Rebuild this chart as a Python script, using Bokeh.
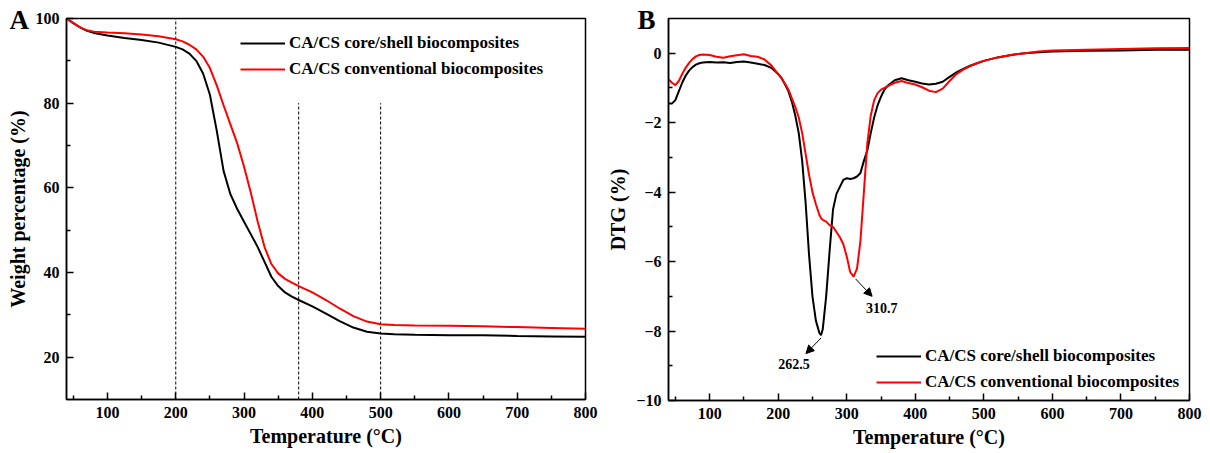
from bokeh.plotting import figure
from bokeh.layouts import row
from bokeh.models import (FixedTicker, Legend, LegendItem, Label, Arrow, NormalHead,
                          Range1d, Title)
from bokeh.embed import file_html
from bokeh.resources import INLINE

# ---------------- data ----------------
series_names = ["CA/CS core/shell biocomposites", "CA/CS conventional biocomposites"]
series_colors = ["#000000", "#ff0000"]
panel_letters = ["A", "B"]

# Panel A: TGA (weight percentage)
tga_temp = [40, 50, 60, 70, 80, 100, 125, 150, 175, 200, 210, 220, 230, 240, 250, 260, 270,
            280, 290, 300, 310, 320, 330, 340, 350, 360, 370, 380, 400, 420, 440, 460, 480,
            500, 520, 550, 600, 650, 700, 750, 800]
tga_core = [100, 98.9, 97.9, 97.1, 96.6, 96.0, 95.4, 94.9, 94.3, 93.3, 92.7, 91.7, 90.0, 87.0,
            82.0, 73.5, 64.0, 58.5, 55.0, 52.0, 49.0, 46.0, 42.5, 39.0, 36.8, 35.3, 34.3, 33.5,
            32.0, 30.3, 28.5, 27.0, 26.0, 25.6, 25.4, 25.3, 25.2, 25.2, 25.0, 24.9, 24.8]
tga_conv = [100, 98.9, 97.9, 97.2, 96.9, 96.7, 96.5, 96.2, 95.8, 95.1, 94.6, 93.8, 92.7, 91.0,
            88.3, 84.2, 79.5, 75.0, 70.5, 65.0, 58.8, 52.0, 46.0, 42.0, 39.8, 38.5, 37.6, 36.8,
            35.3, 33.5, 31.5, 29.7, 28.4, 27.8, 27.6, 27.5, 27.4, 27.3, 27.1, 26.9, 26.7]
marker_temps = [200, 380, 500]
marker_tops = [100, 80, 80]

# Panel B: DTG
dtg_temp = [40, 45, 50, 55, 60, 65, 70, 75, 80, 85, 90, 100, 110, 120, 130, 140, 150, 160, 170,
            180, 190, 200, 205, 210, 215, 220, 225, 230, 235, 240, 245, 250, 255, 260, 262.5,
            265, 270, 275, 280, 285, 290, 295, 300, 305, 310, 315, 320, 325, 330, 335, 340,
            345, 350, 355, 360, 370, 380, 390, 400, 410, 420, 430, 440, 450, 460, 470, 480,
            490, 500, 520, 540, 560, 580, 600, 650, 700, 750, 800]
dtg_core = [-1.45, -1.45, -1.35, -1.1, -0.85, -0.65, -0.5, -0.4, -0.33, -0.29, -0.27, -0.25,
            -0.27, -0.26, -0.28, -0.25, -0.24, -0.27, -0.3, -0.34, -0.42, -0.6, -0.72, -0.9,
            -1.1, -1.4, -1.8, -2.3, -3.1, -4.3, -5.8, -7.0, -7.7, -8.05, -8.12, -7.95, -7.0,
            -5.7, -4.5, -4.05, -3.85, -3.65, -3.6, -3.62, -3.6, -3.55, -3.45, -3.1, -2.8, -2.3,
            -1.85, -1.5, -1.25, -1.05, -0.93, -0.78, -0.72, -0.78, -0.82, -0.87, -0.9, -0.88,
            -0.82, -0.68, -0.55, -0.45, -0.36, -0.29, -0.22, -0.12, -0.05, 0.0, 0.03, 0.05,
            0.07, 0.08, 0.1, 0.1]
dtg_conv = [-0.75, -0.85, -0.92, -0.8, -0.6, -0.42, -0.28, -0.17, -0.09, -0.05, -0.04, -0.05,
            -0.1, -0.13, -0.09, -0.06, -0.03, -0.08, -0.1, -0.18, -0.35, -0.6, -0.72, -0.88,
            -1.05, -1.3, -1.55, -1.85, -2.3, -2.9, -3.5, -4.0, -4.35, -4.65, -4.75, -4.8, -4.85,
            -4.95, -5.0, -5.15, -5.3, -5.5, -5.85, -6.3, -6.43, -6.2, -5.4, -4.0, -2.6, -1.8,
            -1.35, -1.15, -1.05, -1.0, -0.95, -0.85, -0.8, -0.86, -0.9, -0.98, -1.08, -1.12,
            -1.02, -0.8, -0.6, -0.47, -0.37, -0.29, -0.22, -0.12, -0.05, 0.0, 0.05, 0.08, 0.1,
            0.12, 0.14, 0.15]
peak_labels = ["262.5", "310.7"]
peak_arrow_start = [(262.5, -8.2), (313.0, -6.5)]
peak_arrow_end = [(240.5, -8.65), (337.0, -7.0)]
peak_label_pos = [(223.0, -8.95), (351.0, -7.35)]

x_ticks = [100, 200, 300, 400, 500, 600, 700, 800]
x_minor = [50, 150, 250, 350, 450, 550, 650, 750]
a_y_ticks = [20, 40, 60, 80, 100]
a_y_minor = [30, 50, 70, 90]
b_y_ticks = [0, -2, -4, -6, -8, -10]
b_y_minor = [-1, -3, -5, -7, -9]

FONT = "Liberation Serif"


def style(p, yticks, yminor, ylabel):
    p.xaxis.ticker = FixedTicker(ticks=x_ticks, minor_ticks=x_minor)
    p.yaxis.ticker = FixedTicker(ticks=yticks, minor_ticks=yminor)
    for ax in (p.xaxis[0], p.yaxis[0]):
        ax.major_tick_in = 7
        ax.major_tick_out = 0
        ax.minor_tick_in = 4
        ax.minor_tick_out = 0
        ax.axis_line_width = 1.5
        ax.major_tick_line_width = 1.5
        ax.minor_tick_line_width = 1.5
        ax.axis_line_color = "black"
        ax.major_tick_line_color = "black"
        ax.minor_tick_line_color = "black"
        ax.major_label_text_font = FONT
        ax.major_label_text_font_style = "bold"
        ax.major_label_text_font_size = "16px"
        ax.major_label_text_color = "black"
        ax.axis_label_text_font = FONT
        ax.axis_label_text_font_style = "bold"
        ax.axis_label_text_font_size = "20px"
        ax.axis_label_text_color = "black"
        ax.axis_label_standoff = 4
        ax.major_label_standoff = 7
    p.xaxis.axis_label = "Temperature (°C)"
    p.yaxis.axis_label = ylabel
    p.xgrid.visible = False
    p.ygrid.visible = False
    p.outline_line_color = "black"
    p.outline_line_width = 1.5
    p.outline_line_alpha = 1.0
    p.background_fill_color = "white"
    p.border_fill_color = "white"


def make_legend(p, renderers, loc):
    items = [LegendItem(label=n, renderers=[r]) for n, r in zip(series_names, renderers)]
    lg = Legend(items=items, location=loc, glyph_width=45, glyph_height=20,
                label_height=20, spacing=6, padding=0, margin=0, label_standoff=4,
                border_line_alpha=0, background_fill_alpha=0,
                label_text_font=FONT, label_text_font_style="bold",
                label_text_font_size="17px", label_text_color="black")
    p.add_layout(lg)


def add_letter(p, letter, offset):
    t = Title(text=letter, align="left", vertical_align="bottom", offset=offset,
              text_font=FONT, text_font_style="bold", text_font_size="27px",
              text_color="black")
    try:
        t.standoff = -32
    except Exception:
        t.standoff = 0
    p.add_layout(t, "above")


# ---------------- Panel A ----------------
pa = figure(width=600, height=450, frame_width=519, frame_height=381,
            min_border_left=66, min_border_right=15, min_border_top=18, min_border_bottom=51,
            x_range=Range1d(40, 800), y_range=Range1d(10, 100),
            output_backend="svg", toolbar_location=None)
style(pa, a_y_ticks, a_y_minor, "Weight percentage (%)")
pa.segment(x0=marker_temps, y0=[10] * len(marker_temps), x1=marker_temps, y1=marker_tops,
           line_color="black", line_width=1, line_dash="3 2")
ra1 = pa.line(tga_temp, tga_core, line_color=series_colors[0], line_width=2)
ra2 = pa.line(tga_temp, tga_conv, line_color=series_colors[1], line_width=2)
make_legend(pa, [ra1, ra2], (174, 320))
add_letter(pa, panel_letters[0], -57)

# ---------------- Panel B ----------------
pb = figure(width=604, height=450, frame_width=521, frame_height=382,
            min_border_left=68, min_border_right=15, min_border_top=16, min_border_bottom=52,
            x_range=Range1d(40, 800), y_range=Range1d(-10, 1),
            output_backend="svg", toolbar_location=None)
style(pb, b_y_ticks, b_y_minor, "DTG (%)")
rb1 = pb.line(dtg_temp, dtg_core, line_color=series_colors[0], line_width=2)
rb2 = pb.line(dtg_temp, dtg_conv, line_color=series_colors[1], line_width=2)
make_legend(pb, [rb1, rb2], (208, 8))
add_letter(pb, panel_letters[1], -31)
for lab, s, e, lp in zip(peak_labels, peak_arrow_start, peak_arrow_end, peak_label_pos):
    pb.add_layout(Arrow(x_start=s[0], y_start=s[1], x_end=e[0], y_end=e[1],
                        line_color="black", line_width=1,
                        end=NormalHead(size=8, fill_color="black", line_color="black")))
    pb.add_layout(Label(x=lp[0], y=lp[1], text=lab, text_align="center",
                        text_baseline="middle", text_font=FONT, text_font_style="bold",
                        text_font_size="14px", text_color="black"))

layout = row(pa, pb)
open("out.html", "w").write(file_html(layout, INLINE))
